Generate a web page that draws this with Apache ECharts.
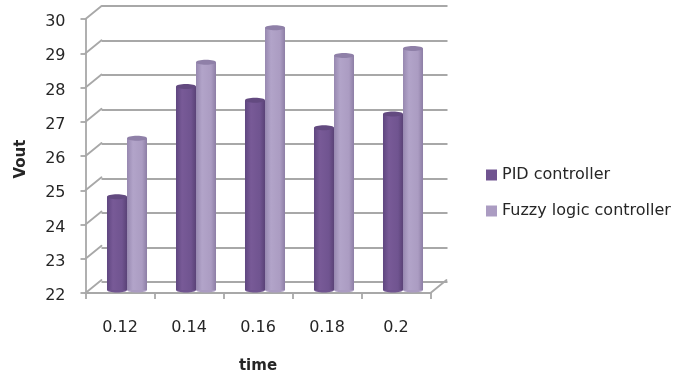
<!DOCTYPE html>
<html>
<head>
<meta charset="utf-8">
<style>html,body{margin:0;padding:0;background:#fff}#chart{width:685px;height:379px}</style>
<script src="https://cdn.jsdelivr.net/npm/echarts@6/dist/echarts.min.js"></script>
</head>
<body>
<div id="chart"></div>
<script>
// Output voltage of the two controllers over time
const timeLabels = ['0.12', '0.14', '0.16', '0.18', '0.2'];
const pidValues = [24.7, 27.9, 27.5, 26.7, 27.1];
const fuzzyValues = [26.4, 28.6, 29.6, 28.8, 29.0];
const yTicks = [22, 23, 24, 25, 26, 27, 28, 29, 30];

const FONT = '"DejaVu Sans", "Noto Sans", sans-serif';
const TEXT_COLOR = '#262626';
const GRID_COLOR = '#a8a8a8';
const LINE_WIDTH = 1.8;
const DEPTH = [16, -13];

// Body shading per series: left edge, highlight, main tone, right edge, cap colour
const PID_SHADE = { base: '#705490', edgeL: '#5f4680', mid: '#785a97', edgeR: '#5a4277', cap: '#634a80' };
const FUZZY_SHADE = { base: '#ab9cc2', edgeL: '#9788b0', mid: '#b2a4c9', edgeR: '#8d7ea5', cap: '#8f80a8' };

function cylinder(shade, side) {
  return function (params, api) {
    const band = api.size([1, 0])[0];
    const w = band * 0.29;
    const top = api.coord([api.value(0), api.value(1)]);
    const base = api.coord([api.value(0), 22]);
    const x = top[0] + side * w / 2 - w / 2;
    const ry = 2.5;
    const gradient = new echarts.graphic.LinearGradient(0, 0, 1, 0, [
      { offset: 0, color: shade.edgeL },
      { offset: 0.3, color: shade.mid },
      { offset: 0.75, color: shade.base },
      { offset: 1, color: shade.edgeR }
    ]);
    return {
      type: 'group',
      children: [
        { type: 'ellipse', shape: { cx: x + w / 2, cy: base[1], rx: w / 2, ry: ry }, style: { fill: shade.base } },
        { type: 'rect', shape: { x: x, y: top[1], width: w, height: base[1] - top[1] }, style: { fill: gradient } },
        { type: 'ellipse', shape: { cx: x + w / 2, cy: top[1], rx: w / 2, ry: ry }, style: { fill: shade.cap } }
      ]
    };
  };
}

// Receding lines joining the front axes to the back wall
function depthLine(params, api) {
  const half = api.size([1, 0])[0] / 2;
  const p = api.coord([api.value(0), api.value(1)]);
  const x = p[0] + api.value(2) * half;
  return {
    type: 'line',
    shape: { x1: x, y1: p[1], x2: x + DEPTH[0], y2: p[1] + DEPTH[1] },
    style: { stroke: GRID_COLOR, lineWidth: LINE_WIDTH, lineCap: 'round' }
  };
}

const depthData = yTicks.map(v => [0, v, -1]);
depthData.push([timeLabels.length - 1, 22, 1]);

const chart = echarts.init(document.getElementById('chart'));
chart.setOption({
  animation: false,
  backgroundColor: '#fff',
  textStyle: { fontFamily: FONT },
  legend: {
    orient: 'vertical',
    left: 481,
    top: 162,
    itemWidth: 11,
    itemHeight: 11,
    itemGap: 20,
    icon: 'rect',
    data: ['PID controller', 'Fuzzy logic controller'],
    textStyle: { fontFamily: FONT, fontSize: 16, color: TEXT_COLOR }
  },
  grid: [
    { left: 85.5, top: 19, width: 345, height: 276 },   // front plane
    { left: 101.5, top: 6, width: 346, height: 276 },   // back wall
    { left: 92.5, top: 14, width: 345, height: 276 }    // plane of the bars
  ],
  xAxis: [
    {
      gridIndex: 0, type: 'category', data: timeLabels,
      name: 'time', nameLocation: 'middle', nameGap: 66,
      nameTextStyle: { fontFamily: FONT, fontSize: 15, fontWeight: 'bold', color: TEXT_COLOR },
      axisLine: { lineStyle: { color: GRID_COLOR, width: LINE_WIDTH } },
      axisTick: { show: true, alignWithLabel: false, length: 6, lineStyle: { color: GRID_COLOR, width: LINE_WIDTH } },
      axisLabel: { margin: 27, fontFamily: FONT, fontSize: 16, color: TEXT_COLOR }
    },
    { gridIndex: 1, type: 'category', data: timeLabels, show: false },
    { gridIndex: 2, type: 'category', data: timeLabels, show: false }
  ],
  yAxis: [
    {
      gridIndex: 0, type: 'value', min: 22, max: 30, interval: 1,
      name: 'Vout', nameLocation: 'middle', nameGap: 57, nameRotate: 90,
      nameTextStyle: { fontFamily: FONT, fontSize: 15, fontWeight: 'bold', color: TEXT_COLOR, padding: [0, 6, 0, 0] },
      axisLine: { show: true, lineStyle: { color: GRID_COLOR, width: LINE_WIDTH } },
      axisTick: { show: true, length: 5, lineStyle: { color: GRID_COLOR, width: LINE_WIDTH } },
      axisLabel: {
        margin: 20,
        formatter: '{n|{value}}',
        rich: { n: { fontFamily: FONT, fontSize: 16, color: TEXT_COLOR, padding: [6, 0, 0, 0] } }
      },
      splitLine: { show: false }
    },
    {
      gridIndex: 1, type: 'value', min: 22, max: 30, interval: 1,
      axisLine: { show: false }, axisTick: { show: false }, axisLabel: { show: false },
      splitLine: { show: true, lineStyle: { color: GRID_COLOR, width: LINE_WIDTH } }
    },
    {
      gridIndex: 2, type: 'value', min: 22, max: 30, interval: 1, show: false, splitLine: { show: false }
    }
  ],
  series: [
    {
      type: 'custom', name: 'depth', xAxisIndex: 0, yAxisIndex: 0, silent: true, z: 1,
      renderItem: depthLine, data: depthData, clip: false
    },
    {
      type: 'custom', name: 'PID controller', xAxisIndex: 2, yAxisIndex: 2, z: 3, clip: false,
      itemStyle: { color: PID_SHADE.base },
      renderItem: cylinder(PID_SHADE, -1),
      data: pidValues.map((v, i) => [i, v])
    },
    {
      type: 'custom', name: 'Fuzzy logic controller', xAxisIndex: 2, yAxisIndex: 2, z: 4, clip: false,
      itemStyle: { color: FUZZY_SHADE.base },
      renderItem: cylinder(FUZZY_SHADE, 1),
      data: fuzzyValues.map((v, i) => [i, v])
    }
  ]
});
</script>
</body>
</html>
